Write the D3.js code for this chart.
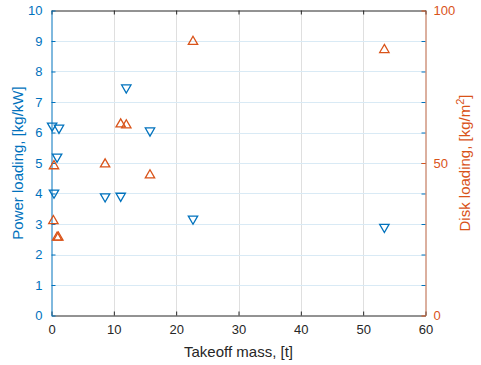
<!DOCTYPE html>
<html>
<head>
<meta charset="utf-8">
<script src="https://cdn.jsdelivr.net/npm/d3@7"></script>
<style>
  html, body { margin: 0; padding: 0; background: #fff; }
  svg { display: block; font-family: "Liberation Sans", Arial, sans-serif; }
</style>
</head>
<body>
<svg id="chart" width="481" height="365"></svg>
<script>
// Power loading (left axis) against takeoff mass
const powerMass    = [0.1, 1.2, 0.9, 0.4, 8.6, 11.1, 12.0, 15.8, 22.7, 53.4];
const powerLoading = [6.22, 6.15, 5.2, 4.02, 3.9, 3.92, 7.47, 6.06, 3.17, 2.9];

// Disk loading (right axis) against takeoff mass
const diskMass    = [0.4, 0.3, 0.9, 1.1, 8.6, 11.1, 12.0, 15.8, 22.7, 53.4];
const diskLoading = [49.0, 31.0, 25.6, 25.6, 49.6, 62.7, 62.4, 46.0, 89.8, 87.1];

const xTicks      = [0, 10, 20, 30, 40, 50, 60];
const leftTicks   = [0, 1, 2, 3, 4, 5, 6, 7, 8, 9, 10];
const rightTicks  = [0, 50, 100];

const BLUE = "#0072BD", ORANGE = "#D95319", DARK = "#262626";

const svg = d3.select("#chart");
const L = 51.5, R = 425.5, T = 10.5, B = 315.5;

const x  = d3.scaleLinear().domain([0, 60]).range([L, R]);
const yL = d3.scaleLinear().domain([0, 10]).range([B, T]);
const yR = d3.scaleLinear().domain([0, 100]).range([B, T]);

const tick = 4;

// grid
const grid = svg.append("g");
grid.selectAll("line.vx").data(xTicks.slice(1, -1)).join("line")
  .attr("x1", d => Math.round(x(d)) + 0.5).attr("x2", d => Math.round(x(d)) + 0.5)
  .attr("y1", T).attr("y2", B)
  .attr("stroke", "#dfdfdf").attr("stroke-width", 1);
grid.selectAll("line.hy").data(leftTicks.slice(1, -1)).join("line")
  .attr("x1", L).attr("x2", R)
  .attr("y1", d => Math.round(yL(d)) + 0.5).attr("y2", d => Math.round(yL(d)) + 0.5)
  .attr("stroke", "#d9eaf5").attr("stroke-width", 1);

// bottom axis (ticks inside)
const bottomAxis = svg.append("g").attr("transform", `translate(0,${B})`)
  .call(d3.axisBottom(x).tickValues(xTicks).tickSizeInner(-tick).tickSizeOuter(0).tickPadding(9));
bottomAxis.select(".domain").attr("stroke", DARK);
bottomAxis.selectAll(".tick line").attr("stroke", DARK);
bottomAxis.selectAll(".tick text").attr("fill", DARK).attr("font-size", 13);

// top edge with mirrored ticks
const topAxis = svg.append("g").attr("transform", `translate(0,${T})`)
  .call(d3.axisTop(x).tickValues(xTicks).tickSizeInner(-tick).tickSizeOuter(0).tickFormat(""));
topAxis.select(".domain").attr("stroke", DARK);
topAxis.selectAll(".tick line").attr("stroke", DARK);

// left axis
const leftAxis = svg.append("g").attr("transform", `translate(${L},0)`)
  .call(d3.axisLeft(yL).tickValues(leftTicks).tickSizeInner(-tick).tickSizeOuter(0).tickPadding(9));
leftAxis.select(".domain").attr("stroke", BLUE);
leftAxis.selectAll(".tick line").attr("stroke", BLUE);
leftAxis.selectAll(".tick text").attr("fill", BLUE).attr("font-size", 13);

// right axis: mirrored left ticks, then its own ticks
const rightMirror = svg.append("g").attr("transform", `translate(${R},0)`)
  .call(d3.axisRight(yL).tickValues(leftTicks.slice(1, -1)).tickSizeInner(-tick).tickSizeOuter(0).tickFormat(""));
rightMirror.select(".domain").remove();
rightMirror.selectAll(".tick line").attr("stroke", BLUE);

const rightAxis = svg.append("g").attr("transform", `translate(${R},0)`)
  .call(d3.axisRight(yR).tickValues(rightTicks).tickSizeInner(-tick).tickSizeOuter(0).tickPadding(8));
rightAxis.select(".domain").attr("stroke", "#b8603e");
rightAxis.selectAll(".tick line").attr("stroke", ORANGE);
rightAxis.selectAll(".tick text").attr("fill", ORANGE).attr("font-size", 13);

svg.selectAll(".tick text").attr("font-family", "Liberation Sans, Arial, sans-serif");

// markers
const tri = d3.symbol().type(d3.symbolTriangle).size(38);

svg.append("g").selectAll("path").data(powerMass.map((m, i) => [m, powerLoading[i]])).join("path")
  .attr("d", tri)
  .attr("transform", d => `translate(${x(d[0])},${yL(d[1])}) rotate(180)`)
  .attr("fill", "none").attr("stroke", BLUE).attr("stroke-width", 1.3);

svg.append("g").selectAll("path").data(diskMass.map((m, i) => [m, diskLoading[i]])).join("path")
  .attr("d", tri)
  .attr("transform", d => `translate(${x(d[0])},${yR(d[1])})`)
  .attr("fill", "none").attr("stroke", ORANGE).attr("stroke-width", 1.3);

// axis titles
svg.append("text")
  .attr("x", (L + R) / 2).attr("y", 357)
  .attr("text-anchor", "middle").attr("font-size", 15).attr("fill", DARK)
  .text("Takeoff mass, [t]");

svg.append("text")
  .attr("transform", `translate(23,${(T + B) / 2}) rotate(-90)`)
  .attr("text-anchor", "middle").attr("font-size", 15).attr("fill", BLUE)
  .text("Power loading, [kg/kW]");

const rt = svg.append("text")
  .attr("transform", `translate(470,${(T + B) / 2}) rotate(-90)`)
  .attr("text-anchor", "middle").attr("font-size", 15).attr("fill", ORANGE);
rt.append("tspan").text("Disk loading, [kg/m");
rt.append("tspan").attr("dy", -6).attr("font-size", 11).text("2");
rt.append("tspan").attr("dy", 6).text("]");
</script>
</body>
</html>
